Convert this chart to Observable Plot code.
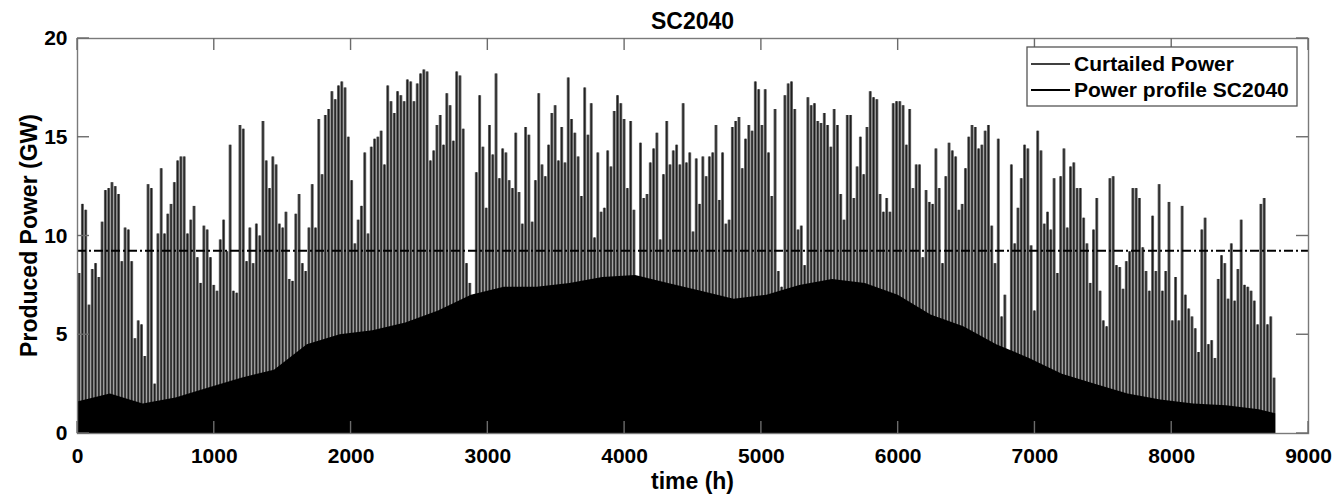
<!DOCTYPE html>
<html><head><meta charset="utf-8">
<script src="https://cdn.jsdelivr.net/npm/d3@7"></script>
<script src="https://cdn.jsdelivr.net/npm/@observablehq/plot@0.6"></script>
<style>html,body{margin:0;padding:0;background:#fff;}</style>
</head><body><div id="chart"></div>
<script>
const title = "SC2040";
const xLabel = "time (h)";
const yLabel = "Produced Power (GW)";
const legendLabels = ["Curtailed Power", "Power profile SC2040"];
const xTicks = [0, 1000, 2000, 3000, 4000, 5000, 6000, 7000, 8000, 9000];
const yTicks = [0, 5, 10, 15, 20];
const curtailedPower = 9.25;

// daily peak of the hourly power profile (GW), one value per day
const dailyPeak = [
8.1, 11.6, 11.3, 6.5, 8.3, 8.6, 7.9, 10.7, 12.3, 12.4,
12.7, 12.5, 12.1, 8.7, 10.4, 10.3, 8.7, 4.8, 5.7, 5.5,
3.9, 12.6, 12.4, 2.5, 10.1, 13.4, 10.1, 11.1, 11.6, 12.7,
13.8, 14.0, 14.0, 10.1, 10.8, 11.5, 8.9, 7.6, 10.5, 10.3,
8.9, 7.5, 7.2, 9.8, 10.8, 9.2, 14.6, 7.2, 7.1, 15.6,
15.4, 8.7, 10.4, 8.6, 10.6, 10.0, 15.8, 13.8, 12.4, 14.0,
13.6, 10.6, 10.4,
11.2, 7.8, 7.7, 11.1, 12.1, 8.6, 8.2, 10.4, 12.6, 10.4,
15.9, 13.1, 16.1, 16.4, 17.3, 16.9, 17.6, 17.8, 17.5, 15.0,
12.8, 9.6, 10.8, 11.5, 14.2, 10.1, 14.5, 14.9, 15.0, 15.3,
13.6, 17.6, 16.8, 16.2, 17.3, 17.1, 16.8, 17.9, 17.8, 16.8,
17.7, 18.2, 18.4, 18.3, 13.8, 14.3, 15.6, 16.1, 14.6, 17.2,
16.6, 14.8, 18.3, 18.1, 15.4, 8.6, 7.6, 3.3, 13.2, 17.1,
14.5,
11.4, 15.6, 14.1, 18.2, 12.9, 14.4, 14.2, 12.8, 12.4, 15.2,
12.2, 10.6, 15.5, 15.1, 10.7, 12.8, 17.2, 13.6, 13.0, 14.6,
16.2, 16.6, 13.8, 15.5, 13.7, 18.0, 15.9, 15.2, 14.0, 12.0,
17.5, 15.1, 16.7, 9.9, 14.2, 11.2, 11.4, 14.3, 13.5, 16.3,
17.1, 16.7, 15.9, 12.4, 15.8, 11.3, 7.0, 14.7, 11.9, 12.1,
13.7, 14.4, 15.2, 9.8, 13.1, 15.8, 13.6, 14.3, 14.6,
13.6, 16.7, 13.7, 14.2, 10.2, 13.9, 11.6, 14.0, 13.0, 14.0,
14.2, 15.6, 11.8, 14.2, 10.6, 10.8, 15.5, 15.8, 16.0, 13.4,
14.9, 15.6, 15.3, 17.8, 17.4, 15.6, 17.4, 14.2, 12.0, 16.4,
8.2, 7.4, 17.1, 17.7, 17.8, 16.4, 10.3, 10.5, 8.5, 17.0,
16.6, 16.7, 15.8, 15.7, 16.2, 15.6, 14.5, 16.4, 15.6, 12.1,
10.8, 16.1, 16.1, 11.9, 13.5, 15.0, 13.1, 15.5, 17.3, 17.0,
16.9,
12.1, 11.2, 11.9, 11.2, 16.7, 16.8, 16.8, 16.6, 14.6, 16.4,
12.4, 13.6, 13.6, 8.9, 12.3, 11.7, 11.6, 14.4, 12.4, 8.6,
13.0, 14.7, 14.3, 14.0, 11.3, 11.6, 13.4, 15.0, 15.6, 15.5,
14.4, 14.6, 15.3, 15.6, 10.5, 8.6, 14.9, 5.9, 7.0, 4.2,
13.6, 9.6, 11.4, 12.9, 14.6, 14.4, 9.5, 6.2, 15.3, 14.3,
10.6, 11.2, 10.3, 12.9, 8.1, 13.0, 14.4, 10.4, 13.5, 13.7,
12.4, 12.4,
10.9, 9.6, 7.6, 10.3, 11.9, 7.2, 5.7, 5.4, 12.9, 13.0,
8.5, 8.4, 7.3, 8.7, 9.2, 12.4, 12.4, 11.9, 9.4, 8.2,
7.2, 11.0, 8.2, 12.6, 7.2, 8.2, 11.7, 5.7, 7.9, 5.7,
11.5, 7.0, 6.3, 5.9, 5.3, 4.1, 10.3, 10.9, 4.5, 4.7,
3.8, 7.8, 9.0, 8.6, 6.8, 9.6, 6.7, 8.3, 10.8, 7.5,
7.4, 7.2, 6.7, 5.5, 11.6, 11.9, 5.5, 5.9, 2.8
];

// level (GW) below which the hourly profile is drawn densely, sampled every 10 days (240 h)
const denseLevel = [
1.6, 2.0, 1.5, 1.8, 2.3, 2.8, 3.2, 4.5, 5.0, 5.2,
5.6, 6.2, 7.0, 7.4, 7.4, 7.6, 7.9, 8.0, 7.6, 7.2,
6.8, 7.0, 7.5, 7.8, 7.6, 7.0, 6.0, 5.4, 4.5, 3.8,
3.0, 2.5, 2.0, 1.7, 1.5, 1.4, 1.2, 1.0
];

const days = dailyPeak.map((v, i) => ({hour: i * 24 + 12, peak: v}));
const dense = denseLevel.map((v, i) => ({hour: Math.min(i * 240, 8760), level: v}));

const W = 1334, H = 498;
const font = "'Liberation Sans', Arial, sans-serif";

const plot = Plot.plot({
  width: W, height: H,
  marginLeft: 77, marginRight: 26, marginTop: 38, marginBottom: 65,
  style: {fontFamily: font, fontWeight: "bold", fontSize: "21px", color: "#000", background: "#fff"},
  x: {domain: [0, 9000]},
  y: {domain: [0, 20]},
  marks: [
    Plot.ruleX(days, {x: "hour", y1: 0, y2: "peak", stroke: "#676767", strokeWidth: 3.0}),
    Plot.ruleX(days, {x: "hour", y1: 0, y2: "peak", stroke: "#1e1e1e", strokeWidth: 1.2}),
    Plot.areaY(dense, {x: "hour", y: "level", fill: "#000", curve: "linear"}),
    Plot.ruleY([curtailedPower], {stroke: "#000", strokeWidth: 2, strokeDasharray: "9,3,2,3"}),
    Plot.axisX({ticks: xTicks, tickFormat: d => String(d), tickSize: 0, tickPadding: 15, label: null, fontSize: 21, fontWeight: "bold"}),
    Plot.axisY({ticks: yTicks, tickFormat: d => String(d), tickSize: 0, tickPadding: 10, label: null, fontSize: 21, fontWeight: "bold"}),
    Plot.frame({stroke: "#7a7a7a", strokeWidth: 1.4})
  ]
});
document.getElementById("chart").appendChild(plot);

const svg = d3.select(plot);
const sx = plot.scale("x"), sy = plot.scale("y");
const yb = sy.apply(0), yt = sy.apply(20), xl = sx.apply(0), xr = sx.apply(9000);
const tl = 12;
const tg = svg.append("g").attr("stroke", "#6b6b6b").attr("stroke-width", 1.4);
xTicks.forEach(t => {
  const X = sx.apply(t);
  tg.append("line").attr("x1", X).attr("x2", X).attr("y1", yb).attr("y2", yb - tl);
  tg.append("line").attr("x1", X).attr("x2", X).attr("y1", yt).attr("y2", yt + tl);
});
yTicks.forEach(t => {
  const Y = sy.apply(t);
  tg.append("line").attr("x1", xl).attr("x2", xl + tl).attr("y1", Y).attr("y2", Y);
  tg.append("line").attr("x1", xr).attr("x2", xr - tl).attr("y1", Y).attr("y2", Y);
});

const txt = (x, y, s, size, anchor) => svg.append("text")
  .attr("x", x).attr("y", y).attr("text-anchor", anchor || "middle")
  .attr("font-family", font).attr("font-weight", "bold").attr("font-size", size)
  .attr("fill", "#000").text(s);

txt((xl + xr) / 2, 29, title, 23);
txt((xl + xr) / 2, 489, xLabel, 23);
txt(0, 0, yLabel, 23).attr("transform", `translate(37,${(yb + yt) / 2}) rotate(-90)`);

// legend
const lg = svg.append("g");
lg.append("rect").attr("x", 1027).attr("y", 47).attr("width", 270).attr("height", 59)
  .attr("fill", "#fff").attr("stroke", "#555").attr("stroke-width", 1.3);
[64, 90].forEach((ly, i) => {
  lg.append("line").attr("x1", 1031).attr("x2", 1070).attr("y1", ly).attr("y2", ly)
    .attr("stroke", "#000").attr("stroke-width", i === 0 ? 1.6 : 2.2);
  lg.append("text").attr("x", 1074).attr("y", ly).attr("dy", "0.35em")
    .attr("text-anchor", "start")
    .attr("font-family", font).attr("font-weight", "bold").attr("font-size", 21)
    .attr("fill", "#000").text(legendLabels[i]);
});
</script>
</body></html>
